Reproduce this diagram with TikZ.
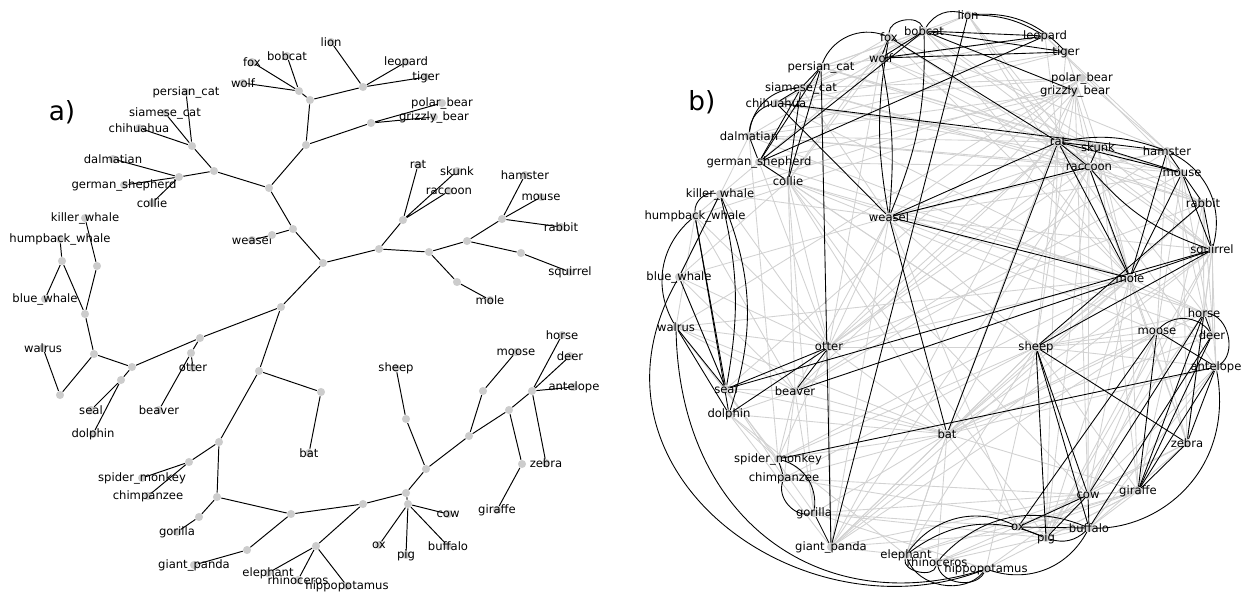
\documentclass[tikz,border=0pt]{standalone}
\usepackage{fontspec}
\setmainfont{DejaVu Sans}
\usepackage{tikz}
\usetikzlibrary{backgrounds}
\definecolor{dotgray}{HTML}{CCCCCC}
\definecolor{webgray}{HTML}{D2D2D2}
\tikzset{
	tdot/.style={circle, fill=dotgray, inner sep=0pt, minimum size=4.6pt},
	lbl/.style={inner sep=0pt, font=\fontsize{6.6}{7}\selectfont},
	treeline/.style={black, line width=0.55pt},
	webline/.style={webgray, line width=0.5pt},
	simline/.style={black, line width=0.5pt},
	paneltag/.style={inner sep=0pt, font=\fontsize{15}{18}\selectfont}
}

\begin{document}
\begin{tikzpicture}[x=0.02cm, y=-0.02cm]
				\useasboundingbox (0, 0) rectangle (1242, 599);
				% a) tree: leaves
				\node[paneltag] (tag-a) at (62, 112) {a)};
				\node[tdot, label={[lbl]center:fox}] (a-fox) at (252, 62) {};
				\node[tdot, label={[lbl]center:bobcat}] (a-bobcat) at (287, 56) {};
				\node[tdot, label={[lbl]center:wolf}] (a-wolf) at (243, 83) {};
				\node[tdot, label={[lbl]center:lion}] (a-lion) at (331, 42) {};
				\node[tdot, label={[lbl]center:leopard}] (a-leopard) at (406, 62) {};
				\node[tdot, label={[lbl]center:tiger}] (a-tiger) at (426, 77) {};
				\node[tdot, label={[lbl]center:polar\_bear}] (a-polar_bear) at (442, 103) {};
				\node[tdot, label={[lbl]center:grizzly\_bear}] (a-grizzly_bear) at (434, 117) {};
				\node[tdot, label={[lbl]center:persian\_cat}] (a-persian_cat) at (186, 92) {};
				\node[tdot, label={[lbl]center:siamese\_cat}] (a-siamese_cat) at (165, 113) {};
				\node[tdot, label={[lbl]center:chihuahua}] (a-chihuahua) at (139, 128) {};
				\node[tdot, label={[lbl]center:dalmatian}] (a-dalmatian) at (113, 159) {};
				\node[tdot, label={[lbl]center:german\_shepherd}] (a-german_shepherd) at (124, 185) {};
				\node[tdot, label={[lbl]center:collie}] (a-collie) at (152, 203) {};
				\node[tdot, label={[lbl]center:weasel}] (a-weasel) at (252, 240) {};
				\node[tdot, label={[lbl]center:rat}] (a-rat) at (418, 165) {};
				\node[tdot, label={[lbl]center:skunk}] (a-skunk) at (457, 171) {};
				\node[tdot, label={[lbl]center:raccoon}] (a-raccoon) at (449, 191) {};
				\node[tdot, label={[lbl]center:mole}] (a-mole) at (490, 300) {};
				\node[tdot, label={[lbl]center:hamster}] (a-hamster) at (525, 175) {};
				\node[tdot, label={[lbl]center:mouse}] (a-mouse) at (541, 197) {};
				\node[tdot, label={[lbl]center:rabbit}] (a-rabbit) at (561, 227) {};
				\node[tdot, label={[lbl]center:squirrel}] (a-squirrel) at (570, 272) {};
				\node[tdot, label={[lbl]center:killer\_whale}] (a-killer_whale) at (85, 218) {};
				\node[tdot, label={[lbl]center:humpback\_whale}] (a-humpback_whale) at (60, 239) {};
				\node[tdot, label={[lbl]center:blue\_whale}] (a-blue_whale) at (45, 299) {};
				\node[tdot, label={[lbl]center:walrus}] (a-walrus) at (43, 348) {};
				\node[tdot, label={[lbl]center:seal}] (a-seal) at (91, 410) {};
				\node[tdot, label={[lbl]center:dolphin}] (a-dolphin) at (93, 434) {};
				\node[tdot, label={[lbl]center:otter}] (a-otter) at (193, 368) {};
				\node[tdot, label={[lbl]center:beaver}] (a-beaver) at (159, 410) {};
				\node[tdot, label={[lbl]center:bat}] (a-bat) at (309, 453) {};
				\node[tdot, label={[lbl]center:spider\_monkey}] (a-spider_monkey) at (142, 478) {};
				\node[tdot, label={[lbl]center:chimpanzee}] (a-chimpanzee) at (148, 496) {};
				\node[tdot, label={[lbl]center:gorilla}] (a-gorilla) at (177, 532) {};
				\node[tdot, label={[lbl]center:giant\_panda}] (a-giant_panda) at (194, 565) {};
				\node[tdot, label={[lbl]center:elephant}] (a-elephant) at (268, 573) {};
				\node[tdot, label={[lbl]center:rhinoceros}] (a-rhinoceros) at (298, 580) {};
				\node[tdot, label={[lbl]center:hippopotamus}] (a-hippopotamus) at (347, 586) {};
				\node[tdot, label={[lbl]center:ox}] (a-ox) at (379, 545) {};
				\node[tdot, label={[lbl]center:pig}] (a-pig) at (406, 555) {};
				\node[tdot, label={[lbl]center:buffalo}] (a-buffalo) at (448, 546) {};
				\node[tdot, label={[lbl]center:cow}] (a-cow) at (448, 514) {};
				\node[tdot, label={[lbl]center:sheep}] (a-sheep) at (396, 368) {};
				\node[tdot, label={[lbl]center:moose}] (a-moose) at (516, 352) {};
				\node[tdot, label={[lbl]center:horse}] (a-horse) at (562, 335) {};
				\node[tdot, label={[lbl]center:deer}] (a-deer) at (570, 356) {};
				\node[tdot, label={[lbl]center:antelope}] (a-antelope) at (574, 387) {};
				\node[tdot, label={[lbl]center:zebra}] (a-zebra) at (546, 463) {};
				\node[tdot, label={[lbl]center:giraffe}] (a-giraffe) at (497, 510) {};
				% a) tree: inner joints
				\node[tdot] (a-foxwolf) at (299, 91) {};
				\node[tdot] (a-predators) at (310, 100) {};
				\node[tdot] (a-bigcats) at (363, 87) {};
				\node[tdot] (a-carnivores) at (306, 145) {};
				\node[tdot] (a-bears) at (371, 123) {};
				\node[tdot] (a-hunters) at (269, 188) {};
				\node[tdot] (a-domestic) at (214, 171) {};
				\node[tdot] (a-cats) at (192, 146) {};
				\node[tdot] (a-dogs) at (179, 177) {};
				\node[tdot] (a-mustelids) at (293, 229) {};
				\node[tdot] (a-weasels) at (272, 235) {};
				\node[tdot] (a-core) at (323, 263) {};
				\node[tdot] (a-small) at (379, 249) {};
				\node[tdot] (a-ratgroup) at (403, 220) {};
				\node[tdot] (a-burrowers) at (429, 252) {};
				\node[tdot] (a-moles) at (457, 282) {};
				\node[tdot] (a-rodents) at (467, 241) {};
				\node[tdot] (a-hamsters) at (502, 219) {};
				\node[tdot] (a-squirrels) at (521, 253) {};
				\node[tdot] (a-lower) at (281, 307) {};
				\node[tdot] (a-aquatic) at (200, 338) {};
				\node[tdot] (a-otters) at (191, 353) {};
				\node[tdot] (a-marine) at (132, 367) {};
				\node[tdot] (a-seals) at (121, 380) {};
				\node[tdot] (a-pinnipeds) at (94, 354) {};
				\node[tdot] (a-walruses) at (60, 395) {};
				\node[tdot] (a-cetaceans) at (85, 314) {};
				\node[tdot] (a-baleen) at (62, 261) {};
				\node[tdot] (a-orcas) at (97, 266) {};
				\node[tdot] (a-mammals) at (259, 371) {};
				\node[tdot] (a-bats) at (321, 392) {};
				\node[tdot] (a-primates) at (219, 442) {};
				\node[tdot] (a-monkeys) at (189, 462) {};
				\node[tdot] (a-apes) at (217, 497) {};
				\node[tdot] (a-gorillas) at (199, 517) {};
				\node[tdot] (a-large) at (291, 514) {};
				\node[tdot] (a-pandas) at (247, 550) {};
				\node[tdot] (a-herbivores) at (363, 504) {};
				\node[tdot] (a-pachyderms) at (316, 546) {};
				\node[tdot] (a-livestock) at (406, 493) {};
				\node[tdot] (a-farm) at (408, 504) {};
				\node[tdot] (a-ungulates) at (426, 469) {};
				\node[tdot] (a-sheeps) at (406, 419) {};
				\node[tdot] (a-ruminants) at (469, 436) {};
				\node[tdot] (a-mooses) at (483, 391) {};
				\node[tdot] (a-grazers) at (509, 410) {};
				\node[tdot] (a-horses) at (532, 391) {};
				\node[tdot] (a-giraffes) at (522, 464) {};

				% b) similarity graph
				\node[paneltag] (tag-b) at (702, 102) {b)};
				\node[tdot, label={[lbl]center:lion}] (b-lion) at (968, 15) {};
				\node[tdot, label={[lbl]center:bobcat}] (b-bobcat) at (924, 31) {};
				\node[tdot, label={[lbl]center:fox}] (b-fox) at (889, 37) {};
				\node[tdot, label={[lbl]center:wolf}] (b-wolf) at (881, 58) {};
				\node[tdot, label={[lbl]center:leopard}] (b-leopard) at (1045, 36) {};
				\node[tdot, label={[lbl]center:tiger}] (b-tiger) at (1066, 52) {};
				\node[tdot, label={[lbl]center:polar\_bear}] (b-polar_bear) at (1082, 78) {};
				\node[tdot, label={[lbl]center:grizzly\_bear}] (b-grizzly_bear) at (1075, 91) {};
				\node[tdot, label={[lbl]center:persian\_cat}] (b-persian_cat) at (821, 67) {};
				\node[tdot, label={[lbl]center:siamese\_cat}] (b-siamese_cat) at (801, 88) {};
				\node[tdot, label={[lbl]center:chihuahua}] (b-chihuahua) at (776, 103) {};
				\node[tdot, label={[lbl]center:dalmatian}] (b-dalmatian) at (749, 136) {};
				\node[tdot, label={[lbl]center:german\_shepherd}] (b-german_shepherd) at (759, 162) {};
				\node[tdot, label={[lbl]center:collie}] (b-collie) at (788, 181) {};
				\node[tdot, label={[lbl]center:rat}] (b-rat) at (1058, 142) {};
				\node[tdot, label={[lbl]center:skunk}] (b-skunk) at (1098, 147) {};
				\node[tdot, label={[lbl]center:raccoon}] (b-raccoon) at (1089, 167) {};
				\node[tdot, label={[lbl]center:hamster}] (b-hamster) at (1167, 151) {};
				\node[tdot, label={[lbl]center:mouse}] (b-mouse) at (1182, 173) {};
				\node[tdot, label={[lbl]center:rabbit}] (b-rabbit) at (1203, 203) {};
				\node[tdot, label={[lbl]center:squirrel}] (b-squirrel) at (1212, 250) {};
				\node[tdot, label={[lbl]center:mole}] (b-mole) at (1130, 278) {};
				\node[tdot, label={[lbl]center:killer\_whale}] (b-killer_whale) at (720, 194) {};
				\node[tdot, label={[lbl]center:humpback\_whale}] (b-humpback_whale) at (695, 216) {};
				\node[tdot, label={[lbl]center:weasel}] (b-weasel) at (889, 217) {};
				\node[tdot, label={[lbl]center:blue\_whale}] (b-blue_whale) at (679, 277) {};
				\node[tdot, label={[lbl]center:walrus}] (b-walrus) at (676, 327) {};
				\node[tdot, label={[lbl]center:otter}] (b-otter) at (829, 347) {};
				\node[tdot, label={[lbl]center:seal}] (b-seal) at (726, 389) {};
				\node[tdot, label={[lbl]center:beaver}] (b-beaver) at (795, 391) {};
				\node[tdot, label={[lbl]center:dolphin}] (b-dolphin) at (729, 414) {};
				\node[tdot, label={[lbl]center:bat}] (b-bat) at (947, 434) {};
				\node[tdot, label={[lbl]center:sheep}] (b-sheep) at (1036, 347) {};
				\node[tdot, label={[lbl]center:moose}] (b-moose) at (1157, 331) {};
				\node[tdot, label={[lbl]center:horse}] (b-horse) at (1204, 313) {};
				\node[tdot, label={[lbl]center:deer}] (b-deer) at (1212, 335) {};
				\node[tdot, label={[lbl]center:antelope}] (b-antelope) at (1216, 367) {};
				\node[tdot, label={[lbl]center:zebra}] (b-zebra) at (1187, 443) {};
				\node[tdot, label={[lbl]center:giraffe}] (b-giraffe) at (1138, 491) {};
				\node[tdot, label={[lbl]center:cow}] (b-cow) at (1088, 495) {};
				\node[tdot, label={[lbl]center:ox}] (b-ox) at (1018, 527) {};
				\node[tdot, label={[lbl]center:buffalo}] (b-buffalo) at (1089, 528) {};
				\node[tdot, label={[lbl]center:pig}] (b-pig) at (1046, 538) {};
				\node[tdot, label={[lbl]center:spider\_monkey}] (b-spider_monkey) at (778, 459) {};
				\node[tdot, label={[lbl]center:chimpanzee}] (b-chimpanzee) at (784, 478) {};
				\node[tdot, label={[lbl]center:gorilla}] (b-gorilla) at (814, 513) {};
				\node[tdot, label={[lbl]center:giant\_panda}] (b-giant_panda) at (831, 547) {};
				\node[tdot, label={[lbl]center:elephant}] (b-elephant) at (906, 555) {};
				\node[tdot, label={[lbl]center:rhinoceros}] (b-rhinoceros) at (937, 562) {};
				\node[tdot, label={[lbl]center:hippopotamus}] (b-hippopotamus) at (986, 569) {};

				\begin{pgfonlayer}{background}
				% a) tree: branches
				\draw[treeline] (a-foxwolf) -- (a-fox) (a-foxwolf) -- (a-bobcat) (a-foxwolf) -- (a-wolf) (a-foxwolf) -- (a-predators);
				\draw[treeline] (a-bigcats) -- (a-lion) (a-bigcats) -- (a-leopard) (a-bigcats) -- (a-tiger) (a-bigcats) -- (a-predators);
				\draw[treeline] (a-predators) -- (a-carnivores) -- (a-hunters);
				\draw[treeline] (a-bears) -- (a-polar_bear) (a-bears) -- (a-grizzly_bear) (a-bears) -- (a-carnivores);
				\draw[treeline] (a-cats) -- (a-persian_cat) (a-cats) -- (a-siamese_cat) (a-cats) -- (a-chihuahua) (a-cats) -- (a-domestic);
				\draw[treeline] (a-dogs) -- (a-dalmatian) (a-dogs) -- (a-german_shepherd) (a-dogs) -- (a-collie) (a-dogs) -- (a-domestic);
				\draw[treeline] (a-domestic) -- (a-hunters) -- (a-mustelids) -- (a-weasels) -- (a-weasel);
				\draw[treeline] (a-mustelids) -- (a-core) -- (a-small) -- (a-burrowers) -- (a-rodents);
				\draw[treeline] (a-ratgroup) -- (a-rat) (a-ratgroup) -- (a-skunk) (a-ratgroup) -- (a-raccoon) (a-ratgroup) -- (a-small);
				\draw[treeline] (a-burrowers) -- (a-moles) -- (a-mole);
				\draw[treeline] (a-hamsters) -- (a-hamster) (a-hamsters) -- (a-mouse) (a-hamsters) -- (a-rabbit) (a-hamsters) -- (a-rodents);
				\draw[treeline] (a-rodents) -- (a-squirrels) -- (a-squirrel);
				\draw[treeline] (a-core) -- (a-lower) -- (a-aquatic) -- (a-marine) -- (a-pinnipeds) -- (a-cetaceans);
				\draw[treeline] (a-otters) -- (a-otter) (a-otters) -- (a-beaver) (a-otters) -- (a-aquatic);
				\draw[treeline] (a-seals) -- (a-seal) (a-seals) -- (a-dolphin) (a-seals) -- (a-marine);
				\draw[treeline] (a-pinnipeds) -- (a-walruses) -- (a-walrus);
				\draw[treeline] (a-baleen) -- (a-humpback_whale) (a-baleen) -- (a-blue_whale) (a-baleen) -- (a-cetaceans);
				\draw[treeline] (a-cetaceans) -- (a-orcas) -- (a-killer_whale);
				\draw[treeline] (a-lower) -- (a-mammals) -- (a-bats) -- (a-bat);
				\draw[treeline] (a-mammals) -- (a-primates) -- (a-apes) -- (a-large) -- (a-herbivores) -- (a-livestock) -- (a-ungulates) -- (a-ruminants) -- (a-grazers);
				\draw[treeline] (a-monkeys) -- (a-spider_monkey) (a-monkeys) -- (a-chimpanzee) (a-monkeys) -- (a-primates);
				\draw[treeline] (a-apes) -- (a-gorillas) -- (a-gorilla);
				\draw[treeline] (a-large) -- (a-pandas) -- (a-giant_panda);
				\draw[treeline] (a-pachyderms) -- (a-elephant) (a-pachyderms) -- (a-rhinoceros) (a-pachyderms) -- (a-hippopotamus) (a-pachyderms) -- (a-herbivores);
				\draw[treeline] (a-farm) -- (a-ox) (a-farm) -- (a-pig) (a-farm) -- (a-buffalo) (a-farm) -- (a-cow) (a-farm) -- (a-livestock);
				\draw[treeline] (a-ungulates) -- (a-sheeps) -- (a-sheep);
				\draw[treeline] (a-ruminants) -- (a-mooses) -- (a-moose);
				\draw[treeline] (a-horses) -- (a-horse) (a-horses) -- (a-deer) (a-horses) -- (a-antelope) (a-horses) -- (a-zebra) (a-horses) -- (a-grazers);
				\draw[treeline] (a-grazers) -- (a-giraffes) -- (a-giraffe);

				% b) weak links
				\foreach \u/\v in {lion/persian_cat, lion/siamese_cat, lion/rat, lion/mole, lion/raccoon, bobcat/persian_cat, bobcat/chihuahua, bobcat/mole, bobcat/squirrel, bobcat/skunk,
						fox/collie, fox/siamese_cat, fox/raccoon, fox/hamster, fox/mole, wolf/dalmatian, wolf/german_shepherd, wolf/collie, wolf/skunk, wolf/raccoon, wolf/otter,
						leopard/rat, leopard/hamster, leopard/mouse, leopard/persian_cat, leopard/siamese_cat, tiger/chihuahua, tiger/rat, tiger/skunk, tiger/dalmatian,
						polar_bear/killer_whale, polar_bear/walrus, polar_bear/seal, polar_bear/siamese_cat, polar_bear/chihuahua, polar_bear/hamster, polar_bear/weasel,
						grizzly_bear/mole, grizzly_bear/sheep, grizzly_bear/bat, grizzly_bear/otter, grizzly_bear/raccoon, grizzly_bear/giant_panda, grizzly_bear/dalmatian,
						grizzly_bear/german_shepherd, grizzly_bear/cow, grizzly_bear/humpback_whale, persian_cat/rat, persian_cat/skunk, persian_cat/mouse,
						siamese_cat/raccoon, siamese_cat/rabbit, siamese_cat/weasel, chihuahua/rat, chihuahua/skunk, chihuahua/mouse, chihuahua/mole,
						dalmatian/rat, dalmatian/raccoon, dalmatian/blue_whale, dalmatian/spider_monkey, dalmatian/mouse, dalmatian/horse,
						german_shepherd/otter, german_shepherd/raccoon, german_shepherd/mole, german_shepherd/sheep, german_shepherd/humpback_whale,
						collie/bat, collie/otter, collie/sheep, collie/gorilla, collie/beaver, collie/cow, collie/mole, collie/pig, collie/blue_whale, collie/moose, collie/horse,
						killer_whale/collie, killer_whale/weasel, killer_whale/otter, humpback_whale/beaver, humpback_whale/otter, humpback_whale/walrus,
						blue_whale/otter, blue_whale/beaver, blue_whale/weasel, blue_whale/seal, walrus/otter, walrus/beaver, walrus/bat, walrus/spider_monkey, walrus/mole,
						seal/beaver, seal/bat, seal/chimpanzee, seal/gorilla, dolphin/beaver, dolphin/bat, dolphin/spider_monkey, dolphin/giant_panda, dolphin/elephant,
						otter/mole, otter/rat, otter/sheep, otter/bat, otter/raccoon, otter/weasel, otter/skunk, otter/rabbit,
						beaver/rat, beaver/mouse, beaver/weasel, beaver/hamster, beaver/bat, weasel/skunk, weasel/hamster, weasel/squirrel, weasel/mouse,
						weasel/sheep, weasel/deer, weasel/giant_panda, weasel/ox, rat/squirrel, rat/sheep, rat/rabbit, rat/pig, rat/antelope,
						skunk/hamster, skunk/rabbit, skunk/squirrel, skunk/mole, skunk/giraffe, raccoon/hamster, raccoon/rabbit, raccoon/cow, raccoon/pig,
						raccoon/horse, raccoon/zebra, raccoon/bat, hamster/moose, hamster/horse, mouse/deer, mouse/moose, mouse/zebra,
						rabbit/antelope, rabbit/horse, rabbit/giraffe, squirrel/horse, squirrel/deer, squirrel/antelope, squirrel/zebra, squirrel/cow, squirrel/pig,
						mole/sheep, mole/horse, mole/moose, mole/cow, mole/giraffe, mole/zebra, mole/pig,
						bat/sheep, bat/moose, bat/horse, bat/antelope, bat/deer, bat/giraffe, bat/mole, bat/squirrel, bat/rabbit, bat/spider_monkey, bat/chimpanzee,
						bat/gorilla, bat/ox, bat/elephant, spider_monkey/otter, spider_monkey/beaver, spider_monkey/sheep, spider_monkey/mole,
						chimpanzee/beaver, chimpanzee/cow, chimpanzee/buffalo, chimpanzee/sheep, gorilla/beaver, gorilla/ox, gorilla/pig, gorilla/hippopotamus, gorilla/giraffe,
						giant_panda/bat, giant_panda/mole, giant_panda/sheep, giant_panda/squirrel, giant_panda/cow, giant_panda/otter, giant_panda/moose,
						giant_panda/elephant, giant_panda/raccoon, giant_panda/buffalo, elephant/cow, elephant/giraffe, elephant/sheep, elephant/bat,
						rhinoceros/cow, rhinoceros/buffalo, rhinoceros/giraffe, rhinoceros/bat, hippopotamus/cow, hippopotamus/giraffe, hippopotamus/sheep,
						sheep/moose, sheep/horse, sheep/antelope, sheep/deer, sheep/giraffe, ox/zebra, ox/giraffe, pig/giraffe, pig/moose, pig/horse,
						cow/giraffe, cow/zebra, cow/moose, cow/antelope, buffalo/giraffe, buffalo/zebra, buffalo/antelope, moose/zebra}
					\draw[webline] (b-\u) -- (b-\v);

				% b) strong links
				\foreach \u/\v in {bobcat/leopard, bobcat/tiger, wolf/leopard, wolf/tiger, bobcat/grizzly_bear, fox/rat, fox/wolf, wolf/bobcat,
						persian_cat/siamese_cat, siamese_cat/chihuahua, persian_cat/german_shepherd, siamese_cat/german_shepherd, dalmatian/german_shepherd,
						german_shepherd/collie, siamese_cat/collie, persian_cat/collie, german_shepherd/leopard, german_shepherd/bobcat, chihuahua/hamster, chihuahua/weasel,
						humpback_whale/seal, humpback_whale/dolphin, walrus/seal, walrus/dolphin, blue_whale/seal, seal/otter, dolphin/otter, beaver/otter, killer_whale/blue_whale,
						rat/skunk, rat/raccoon, skunk/raccoon, hamster/mouse, mouse/rabbit, mouse/squirrel, rabbit/squirrel, rat/mole, raccoon/mole, hamster/mole,
						mouse/mole, squirrel/mole, weasel/raccoon, weasel/mole, weasel/rat, weasel/bat, rat/bat, beaver/mole, seal/squirrel, rat/mouse, skunk/mouse,
						sheep/pig, sheep/cow, sheep/buffalo, sheep/zebra, sheep/rabbit, sheep/squirrel, moose/antelope, moose/giraffe, moose/ox, horse/zebra,
						horse/giraffe, deer/giraffe, antelope/giraffe, antelope/zebra, zebra/giraffe, horse/cow, deer/buffalo, cow/buffalo, cow/ox, cow/pig, ox/pig,
						ox/buffalo, horse/deer, spider_monkey/chimpanzee, gorilla/giant_panda, spider_monkey/antelope, giant_panda/lion, giant_panda/persian_cat}
					\draw[simline] (b-\u) -- (b-\v);
				\draw[simline] (b-fox) to[bend left=80] (b-bobcat);
				\draw[simline] (b-bobcat) to[bend left=40] (b-lion);
				\draw[simline] (b-lion) to[bend left=25] (b-tiger);
				\draw[simline] (b-lion) to[bend left=15] (b-leopard);
				\draw[simline] (b-persian_cat) to[bend left=45] (b-fox);
				\draw[simline] (b-chihuahua) to[bend right=35] (b-dalmatian);
				\draw[simline] (b-dalmatian) to[bend left=40] (b-siamese_cat);
				\draw[simline] (b-fox) to[bend right=10] (b-weasel);
				\draw[simline] (b-wolf) to[bend left=8] (b-weasel);
				\draw[simline] (b-bobcat) to[bend left=12] (b-weasel);
				\draw[simline] (b-killer_whale) to[bend right=50] (b-humpback_whale);
				\draw[simline] (b-killer_whale) to[bend left=12] (b-seal);
				\draw[simline] (b-killer_whale) to[bend left=20] (b-dolphin);
				\draw[simline] (b-humpback_whale) to[bend right=40] (b-walrus);
				\draw[simline] (b-hamster) to[bend left=40] (b-squirrel);
				\draw[simline] (b-rat) to[bend left=15] (b-hamster);
				\draw[simline] (b-raccoon) to[bend right=15] (b-squirrel);
				\draw[simline] (b-moose) to[bend left=50] (b-deer);
				\draw[simline] (b-horse) to[bend left=70] (b-antelope);
				\draw[simline] (b-pig) to[bend right=30] (b-buffalo);
				\draw[simline] (b-spider_monkey) to[bend left=40] (b-gorilla);
				\draw[simline] (b-chimpanzee) to[bend right=60] (b-gorilla);
				\draw[simline] (b-elephant) to[bend left=40] (b-ox);
				\draw[simline] (b-elephant) to[bend left=30] (b-pig);
				\draw[simline] (b-rhinoceros) to[bend left=35] (b-buffalo);
				\draw[simline] (b-buffalo) to[bend left=40] (b-hippopotamus);
				\draw[simline] (b-elephant) to[bend right=60] (b-hippopotamus);
				\draw[simline] (b-elephant) to[bend right=90] (b-rhinoceros);
				\draw[simline] (b-rhinoceros) to[bend right=70] (b-hippopotamus);
				\draw[simline] (b-blue_whale) .. controls (570, 470) and (800, 640) .. (b-hippopotamus);
				\draw[simline] (b-walrus) .. controls (680, 520) and (820, 620) .. (b-hippopotamus);
				\draw[simline] (b-antelope) .. controls (1235, 470) and (1160, 530) .. (b-buffalo);
				\end{pgfonlayer}
			\end{tikzpicture}
\end{document}
